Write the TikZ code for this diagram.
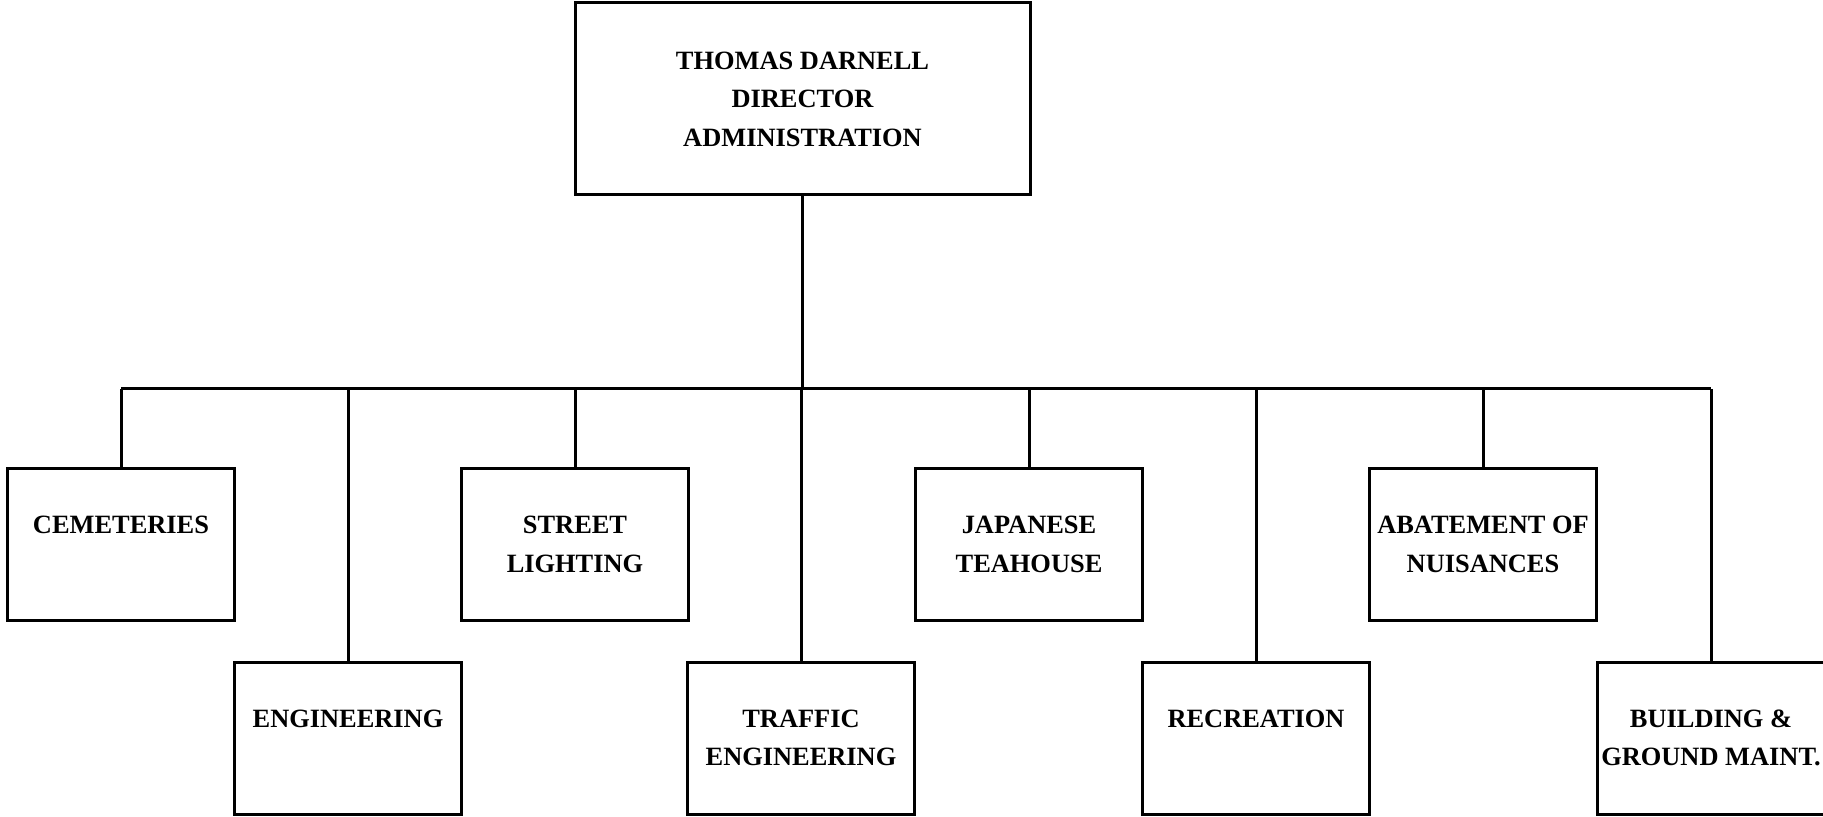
\documentclass[tikz,border=0pt]{standalone}
\usepackage{fontspec}
\setmainfont{Liberation Serif}
\begin{document}
\begin{tikzpicture}[x=0.5pt,y=-0.5pt,
  every node/.style={inner sep=0pt},
  boxline/.style={line width=1.5pt},
  unitbox/.style={draw, boxline, rectangle, minimum width=113.5pt, minimum height=76pt,
    align=center, font=\bfseries\fontsize{13.2}{19.25}\selectfont},
  headbox/.style={draw, boxline, rectangle, minimum width=227.5pt, minimum height=96pt,
    align=center, font=\bfseries\fontsize{13.2}{19.25}\selectfont},
  link/.style={boxline}]
\useasboundingbox (0,0) rectangle (1823,817);

% director
\node[headbox] (dir) at (802.5,99) {THOMAS DARNELL\\DIRECTOR\\ADMINISTRATION};

% upper row of units
\node[unitbox] (cem) at (121,544.5) {CEMETERIES\\\phantom{X}};
\node[unitbox] (str) at (575,544.5) {STREET\\LIGHTING};
\node[unitbox] (jap) at (1029,544.5) {JAPANESE\\TEAHOUSE};
\node[unitbox] (aba) at (1483,544.5) {ABATEMENT OF\\NUISANCES};

% lower row of units
\node[unitbox] (eng) at (348,738) {ENGINEERING\\\phantom{X}};
\node[unitbox] (tra) at (801,738) {TRAFFIC\\ENGINEERING};
\node[unitbox] (rec) at (1256,738) {RECREATION\\\phantom{X}};
\node[unitbox] (bld) at (1711,738) {BUILDING \&\\GROUND MAINT.};

% distribution bus
\coordinate (bus) at (0,389);
\draw[link] (dir.south) -- (dir.south |- bus);
\draw[link] (cem.north |- bus) -- (bld.north |- bus);
\foreach \n in {cem,str,jap,aba,eng,tra,rec,bld}
  \draw[link] (\n.north |- bus) -- (\n.north);
\end{tikzpicture}
\end{document}
